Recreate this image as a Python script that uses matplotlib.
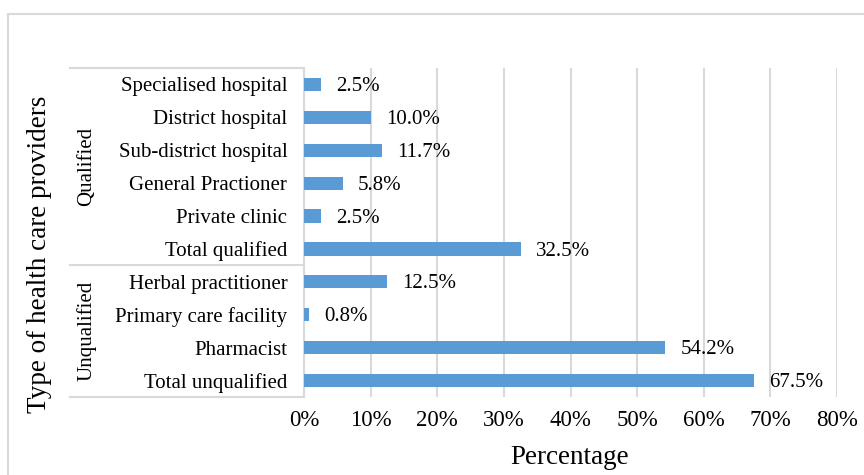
"""
Health care provider type, horizontal bars with two-level category axis
"""
import matplotlib.pyplot as plt
from matplotlib.patches import Rectangle
import matplotlib.transforms as mtransforms

plt.rcParams['font.family'] = ['Liberation Serif', 'DejaVu Serif']

providers = ['Specialised hospital', 'District hospital', 'Sub-district hospital',
             'General Practioner', 'Private clinic', 'Total qualified',
             'Herbal practitioner', 'Primary care facility', 'Pharmacist',
             'Total unqualified']
values = [2.5, 10.0, 11.7, 5.8, 2.5, 32.5, 12.5, 0.8, 54.2, 67.5]
groups = ['Qualified', 'Unqualified']
group_sizes = [6, 4]
x_ticks = [0, 10, 20, 30, 40, 50, 60, 70, 80]

bar_color = '#5B9BD5'
grid_color = '#D9D9D9'

fig = plt.figure(figsize=(8.64, 4.75), dpi=100)
ax = fig.add_axes([304 / 864, 1 - 397 / 475, 533 / 864, 329 / 475])

# outer chart border (light gray, runs off right/bottom edges)
fig.patches.append(Rectangle((8 / 864, -0.05), 1.0, 1 - 14 / 475 + 0.05,
                             transform=fig.transFigure, fill=False,
                             edgecolor=grid_color, linewidth=1.5))

pos = list(range(len(providers)))
ax.barh(pos, values, height=0.4, color=bar_color, zorder=3)

for p, v in zip(pos, values):
    ax.annotate(f'{v:.1f}%', xy=(v, p), xytext=(11, -1.5), textcoords='offset points',
                va='center', ha='left', fontsize=15)

ax.set_ylim(len(providers) - 0.5, -0.5)
ax.set_xlim(0, 80)
ax.set_yticks(pos)
ax.set_yticklabels(providers, fontsize=15)
ax.set_xticks(x_ticks)
ax.set_xticklabels([f'{t}%' for t in x_ticks], fontsize=16.5)
ax.tick_params(axis='both', length=0)
ax.tick_params(axis='y', pad=12)
ax.tick_params(axis='x', pad=9)

ax.grid(axis='x', color=grid_color, linewidth=1.5, zorder=0)
for s in ['top', 'right', 'bottom']:
    ax.spines[s].set_visible(False)
ax.spines['left'].set_color(grid_color)
ax.spines['left'].set_linewidth(1.5)

# two-level category box
x_box = (70 - 304) / 533
trans = mtransforms.blended_transform_factory(ax.transAxes, ax.transData)
start = -0.5
for g, n in zip(groups, group_sizes):
    ax.plot([x_box, 0], [start, start], transform=trans, color=grid_color,
            linewidth=1.5, clip_on=False)
    ax.text((87 - 304) / 533, start + n / 2, g, transform=trans, rotation=90,
            ha='center', va='center', fontsize=15)
    start += n
ax.plot([x_box, 0], [start, start], transform=trans, color=grid_color,
        linewidth=1.5, clip_on=False)

fig.text(40 / 864, 1 - 254 / 475, 'Type of health care providers', rotation=90,
         ha='center', va='center', fontsize=19.5)
fig.text(570 / 864, 1 - 457 / 475, 'Percentage', ha='center', va='center',
         fontsize=19.5)

fig.savefig('out.png', dpi=100)
